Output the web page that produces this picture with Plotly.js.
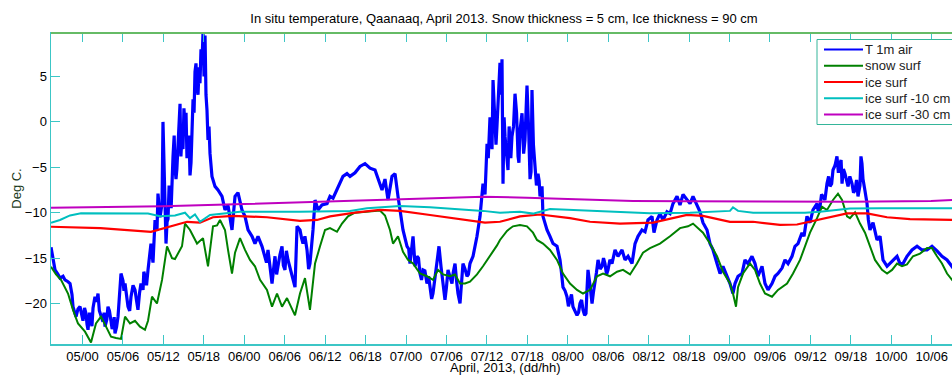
<!DOCTYPE html>
<html>
<head>
<meta charset="utf-8">
<script src="https://cdn.plot.ly/plotly-3.0.1.min.js"></script>
<style>
  html, body { margin: 0; padding: 0; overflow: hidden; background: #fff; }
  #chart { width: 985px; height: 376px; }
</style>
</head>
<body>
<div id="chart"></div>
<script>
// Hours are counted from 2013-04-05 00:00.
const airHours = [
  -4.67,-4.38,-4.08,-3.64,-3.34,-2.89,-2.60,-2.15,-1.85,-1.56,-1.41,-0.96,-0.67,-0.37,
  0.07,0.30,0.52,0.67,0.82,1.05,1.26,1.40,1.56,1.85,2.10,2.30,2.50,2.74,3.04,3.20,3.34,3.60,3.78,4.00,
  4.23,4.40,4.53,4.70,4.82,5.05,5.27,5.40,5.56,5.71,6.01,6.15,6.31,6.55,6.75,7.00,7.20,7.50,7.79,8.00,
  8.23,8.45,8.68,8.98,9.10,9.27,9.50,9.72,9.90,10.02,10.16,10.46,10.76,11.05,11.20,11.50,11.80,11.94,
  12.09,12.25,12.39,12.55,12.69,12.85,12.98,13.15,13.43,13.60,13.72,13.87,14.00,14.17,14.30,14.47,
  14.60,14.76,14.91,15.05,15.21,15.36,15.50,15.65,15.80,15.95,16.10,16.25,16.40,16.55,16.69,16.84,
  16.95,17.14,17.30,17.43,17.58,17.73,17.88,18.03,18.18,18.32,18.47,18.62,18.77,18.92,19.21,
  19.66,20.10,20.70,21.14,21.59,21.88,22.18,22.63,23.07,23.66,24.11,24.56,25.15,25.59,26.04,26.63,
  27.08,27.30,27.52,27.82,28.12,28.35,28.56,28.80,29.01,29.30,29.60,29.80,30.04,30.25,30.49,30.80,
  31.08,31.53,31.83,32.27,32.50,32.72,33.00,33.31,33.55,33.75,34.20,34.50,
  34.94,35.53,36.28,36.72,37.17,37.76,38.21,38.65,39.24,39.69,40.43,41.17,41.91,42.66,43.40,43.84,
  44.44,44.88,45.33,45.92,46.37,46.81,47.40,47.55,48.15,48.40,48.59,48.80,49.04,49.35,49.63,49.85,
  50.07,50.30,50.52,50.80,51.11,51.35,51.56,51.80,52.00,52.30,52.60,52.89,53.20,53.49,53.78,54.00,
  54.23,54.50,54.82,55.00,55.27,55.50,55.71,56.01,56.25,56.45,56.75,57.05,57.25,57.49,57.94,58.53,
  58.98,59.42,59.72,60.02,60.20,60.46,60.60,60.76,60.91,61.05,61.20,61.35,61.50,61.65,61.80,61.94,
  62.10,62.24,62.39,62.55,62.69,62.90,63.13,63.30,63.43,63.55,63.72,63.95,64.17,64.40,64.62,64.75,
  64.91,65.05,65.21,65.45,65.65,65.80,65.95,66.20,66.40,66.55,66.69,66.90,67.14,67.35,67.58,67.75,
  67.88,68.18,68.32,68.92,69.36,69.81,70.40,70.85,71.05,71.29,71.60,71.88,72.10,72.33,72.55,72.77,
  73.10,73.37,73.60,73.81,74.05,74.26,74.50,74.70,74.85,75.00,75.30,75.60,75.80,76.04,76.25,76.49,
  76.80,77.08,77.30,77.52,77.75,77.97,78.25,78.56,
  79.01,79.45,80.05,80.49,80.94,81.53,81.98,82.42,83.01,83.46,83.90,84.50,84.79,85.24,85.68,86.13,
  86.72,87.17,87.61,88.21,88.65,89.10,89.69,90.14,90.58,91.18,91.62,92.06,92.66,93.10,93.55,94.14,
  94.59,95.03,95.62,96.07,96.51,96.81,97.26,97.85,98.29,98.74,99.33,99.78,100.22,100.82,101.26,101.71,
  102.30,102.75,103.19,103.79,104.23,104.68,105.27,105.71,106.16,106.75,107.05,107.49,107.94,108.38,108.98,
  109.15,109.42,109.65,109.87,110.15,110.46,110.70,110.91,111.15,111.35,111.65,111.94,112.15,112.39,112.55,112.69,
  112.90,113.13,113.35,113.58,113.85,114.17,114.40,114.62,114.85,115.06,115.35,115.50,115.65,115.80,116.10,116.40,
  116.60,116.84,117.29,117.88,118.33,118.77,119.37,119.81,120.26,120.85,121.29,121.74,122.33,123.07,123.82,124.56,
  125.30,126.04,126.78,127.52,128.27,129.01,129.90,130.60
];
const airTemp = [
  -13.8,-15.0,-16.3,-16.8,-17.2,-17.0,-17.4,-17.6,-17.8,-19.0,-20.35,-21.45,-20.6,-20.35,
  -21.9,-20.5,-21.1,-22.3,-22.9,-21.0,-21.9,-22.5,-20.5,-19.25,-19.8,-18.9,-20.8,-21.45,-22.0,-21.0,-22.55,-21.8,-20.35,-20.8,
  -21.9,-22.8,-22.5,-21.5,-23.3,-22.6,-21.45,-20.0,-19.0,-16.7,-17.5,-18.6,-17.8,-19.0,-20.35,-20.8,-19.25,-18.0,-18.5,-19.6,
  -20.7,-18.9,-17.8,-18.5,-16.5,-17.0,-18.0,-16.3,-15.2,-14.5,-13.4,-15.5,-10.8,-12.0,-7.9,-10.5,-9.0,0.0,
  -6.0,-9.5,-13.4,-11.0,-10.7,-7.0,-8.0,-9.5,-3.8,-1.5,-5.0,-6.3,-5.2,-2.0,-0.5,2.0,
  -3.8,-1.5,-3.0,1.5,-0.5,1.0,-4.0,-2.5,-1.5,-5.9,-4.5,-1.0,2.5,1.0,5.5,6.45,
  4.0,3.0,6.0,4.25,8.0,6.5,9.8,5.0,9.5,3.0,1.3,-2.0,-0.5,-3.5,-6.0,
  -7.1,-7.5,-8.2,-9.7,-9.2,-10.5,-11.9,-8.2,-7.8,-9.7,-10.4,-11.9,-12.6,-13.4,-12.6,-13.7,
  -14.8,-15.5,-14.1,-16.0,-17.8,-16.2,-14.8,-16.8,-15.6,-14.6,-13.7,-15.8,-16.3,-14.2,-15.2,-16.0,
  -17.0,-18.2,-11.5,-11.9,-12.8,-13.4,-12.6,-14.1,-16.2,-15.6,-11.9,-8.6,
  -9.7,-9.15,-9.0,-8.2,-8.4,-7.5,-6.8,-6.0,-5.7,-6.0,-5.6,-4.9,-4.6,-5.1,-5.3,-6.3,
  -7.5,-6.3,-8.6,-6.0,-5.7,-8.2,-11.0,-11.9,-13.7,-14.0,-15.6,-14.2,-12.6,-15.9,-14.8,-15.0,
  -16.7,-17.4,-16.3,-16.4,-17.8,-17.0,-18.5,-19.5,-18.9,-17.0,-15.6,-13.7,-16.0,-17.8,-19.6,-18.2,
  -16.3,-17.0,-17.8,-16.6,-15.6,-17.5,-18.9,-20.0,-17.6,-15.6,-16.2,-17.0,-16.8,-15.6,-14.8,-12.6,
  -10.4,-6.8,-8.0,-2.4,-4.0,0.5,-1.0,-3.0,4.6,2.5,1.0,-2.5,-0.4,2.0,5.0,6.5,
  3.0,6.9,-6.8,0.5,-1.6,-3.5,-5.3,-0.5,-3.0,-4.0,-1.6,-0.5,3.1,1.0,-3.8,-4.5,
  -1.0,-0.3,0.95,-3.5,-2.0,1.0,4.0,-1.0,-6.3,-5.5,3.5,-2.5,-4.6,-7.0,-5.7,-6.5,
  -8.2,-7.1,-10.4,-11.9,-12.6,-13.4,-13.7,-15.2,-16.5,-18.2,-18.6,-19.25,-20.3,-19.6,-19.0,-20.35,
  -20.8,-21.3,-21.0,-20.0,-19.6,-20.7,-21.3,-21.1,-18.5,-16.3,-18.0,-20.0,-18.8,-17.8,-16.6,-15.2,
  -16.2,-15.9,-15.0,-15.6,-16.8,-16.3,-15.2,-15.6,
  -14.1,-14.8,-14.1,-15.2,-14.8,-15.6,-13.4,-12.6,-11.9,-12.1,-10.8,-10.4,-12.2,-10.8,-10.1,-10.8,
  -9.9,-10.1,-9.0,-8.2,-9.15,-8.0,-8.6,-9.0,-8.2,-9.15,-9.9,-11.1,-11.9,-13.4,-14.1,-15.6,
  -16.7,-15.9,-17.0,-17.8,-18.9,-17.8,-17.0,-16.7,-15.2,-15.6,-14.8,-15.6,-17.0,-15.9,-17.8,-18.5,
  -17.8,-17.0,-16.7,-16.1,-15.2,-15.6,-14.8,-13.7,-13.4,-12.2,-12.6,-10.4,-11.1,-9.7,-9.0,
  -9.8,-9.35,-8.0,-8.2,-8.6,-6.8,-6.0,-7.1,-6.8,-5.3,-4.8,-3.8,-5.6,-4.6,-4.2,-6.8,
  -5.2,-5.7,-6.3,-7.1,-6.0,-6.8,-7.8,-7.5,-6.4,-8.2,-7.0,-3.8,-4.6,-6.3,-7.6,-9.0,
  -10.8,-11.9,-11.1,-13.0,-12.6,-15.2,-15.9,-15.6,-15.2,-14.8,-15.6,-15.6,-14.8,-14.1,-13.7,-14.1,
  -14.1,-13.7,-14.2,-14.8,-15.2,-15.9,-16.8,-17.2
];

const snowHours = [-4.67,-3.93,-3.19,-2.15,-1.41,-0.67,0.37,1.26,2.00,2.74,3.49,4.23,4.97,5.71,6.31,7.05,7.79,8.53,9.27,9.72,10.31,11.05,11.80,12.54,13.28,13.72,14.76,15.21,15.95,16.99,17.88,18.62,19.36,19.96,20.40,21.14,21.59,22.18,22.63,23.37,24.11,24.85,25.59,26.34,27.37,28.12,28.86,29.60,30.34,31.08,31.53,32.27,33.01,33.75,34.50,35.24,35.98,36.72,37.76,38.50,39.39,40.43,41.17,42.66,44.14,44.88,45.62,46.07,46.81,47.55,48.29,49.04,50.07,51.11,52.00,52.75,53.49,54.53,55.27,56.01,56.75,57.49,58.53,59.42,60.46,61.50,61.94,62.98,63.87,64.91,65.95,66.84,67.43,68.32,69.36,70.40,71.29,72.33,73.37,74.26,75.30,76.34,77.23,78.27,79.31,80.20,81.24,82.27,83.16,84.20,85.68,87.17,88.65,89.84,90.58,91.33,92.06,93.10,94.14,95.03,96.07,96.51,96.96,97.26,98.00,99.04,99.78,100.52,101.26,102.30,103.19,104.53,105.42,106.46,107.20,107.94,108.98,109.72,110.46,111.35,112.09,112.69,113.43,113.87,114.62,115.36,116.10,116.84,117.58,118.62,119.37,120.11,120.85,121.59,122.33,123.22,124.26,125.30,126.04,126.78,127.52,128.27,129.01,129.90,130.50];
const snowTemp = [-15.95,-16.8,-17.4,-18.9,-20.7,-22.2,-23.1,-24.3,-22.2,-21.45,-22.55,-23.66,-23.8,-23.9,-21.45,-22.2,-21.9,-22.55,-22.9,-21.9,-19.25,-20.0,-17.4,-13.7,-15.0,-15.1,-13.7,-11.2,-11.9,-13.4,-12.8,-15.9,-11.5,-11.4,-10.8,-11.9,-14.1,-16.7,-14.4,-12.8,-14.1,-15.2,-15.9,-17.4,-18.5,-20.35,-18.9,-20.35,-19.4,-20.7,-21.3,-18.9,-17.2,-20.7,-15.6,-13.7,-11.9,-11.7,-12.1,-11.2,-10.4,-10.0,-9.95,-9.9,-9.75,-10.3,-11.9,-13.4,-12.6,-14.3,-15.2,-15.6,-16.7,-17.0,-17.4,-16.3,-16.8,-17.0,-16.8,-17.8,-17.8,-17.6,-16.8,-15.9,-14.8,-13.6,-13.0,-12.0,-11.5,-11.35,-11.5,-12.2,-13.0,-13.4,-14.1,-15.2,-16.7,-17.8,-18.5,-18.9,-18.5,-17.0,-16.7,-17.0,-16.5,-16.3,-16.8,-15.6,-14.4,-13.9,-13.4,-12.6,-11.7,-11.5,-11.2,-11.7,-12.2,-13.4,-14.8,-16.5,-17.8,-18.9,-20.35,-18.2,-16.7,-15.6,-16.3,-17.8,-18.9,-19.25,-18.5,-17.8,-16.7,-15.2,-13.7,-12.2,-10.6,-9.35,-9.7,-8.6,-7.9,-8.6,-10.4,-10.6,-9.95,-11.2,-12.2,-13.7,-15.2,-16.3,-16.7,-16.3,-15.6,-15.9,-15.7,-14.8,-14.5,-13.9,-13.9,-14.8,-15.6,-16.7,-17.4,-18.0,-18.3];

const iceHours = [-4.67,2.67,10.16,12.54,15.51,17.43,19.36,22.33,27.37,32.27,34.79,36.72,40.43,44.14,47.11,51.56,57.49,59.72,61.94,64.91,67.88,72.33,75.30,79.75,84.65,89.69,92.06,96.07,99.49,103.49,106.01,109.42,113.43,116.40,119.37,122.78,128.71,130.50];
const iceTemp = [-11.55,-11.7,-12.1,-11.6,-11.0,-11.1,-10.5,-10.35,-10.5,-10.9,-10.8,-10.4,-10.0,-9.7,-9.8,-10.25,-10.9,-11.1,-11.0,-10.4,-10.2,-10.6,-11.0,-11.2,-11.1,-10.25,-10.35,-11.0,-11.0,-11.35,-11.3,-10.7,-10.07,-10.07,-10.5,-10.7,-10.8,-10.8];

const ice10Hours = [-4.67,-3.34,-1.85,-0.22,9.72,11.50,13.72,15.21,15.95,16.69,17.43,18.92,23.37,32.27,39.69,42.20,47.11,51.56,59.42,61.94,64.91,66.84,69.36,74.26,80.50,84.20,90.14,96.07,96.51,97.26,99.50,107.20,109.42,113.87,118.33,130.50];
const ice10Temp = [-11.1,-10.8,-10.3,-10.07,-10.1,-10.4,-10.3,-10.0,-10.6,-10.2,-11.0,-10.25,-9.9,-9.9,-9.8,-9.5,-9.25,-9.4,-9.8,-10.0,-9.9,-10.1,-9.6,-9.75,-9.9,-10.05,-10.0,-9.8,-9.4,-9.8,-10.0,-10.0,-9.9,-9.55,-9.5,-9.5];

const ice30Hours = [-4.67,0.07,11.94,23.96,34.79,47.85,59.42,65.95,71.74,81.68,89.84,101.86,113.87,125.89,129.90,130.50];
const ice30Temp = [-9.45,-9.4,-9.3,-9.05,-8.8,-8.55,-8.25,-8.35,-8.5,-8.7,-8.75,-8.8,-8.8,-8.7,-8.55,-8.55];

const seriesNames = ['T 1m air', 'snow surf', 'ice surf', 'ice surf -10 cm', 'ice surf -30 cm'];
const seriesColors = ['#0000ff', '#008000', '#ff0000', '#00bfbf', '#bf00bf'];
const yTicks = [-20, -15, -10, -5, 0, 5];

const chartTitle = 'In situ temperature, Qaanaaq, April 2013. Snow thickness = 5 cm, Ice thickness = 90 cm';
const xTitle = 'April, 2013, (dd/hh)';
const yTitle = 'Deg C.';

// hours after 2013-04-05 00:00 -> Plotly date string
const t0 = Date.UTC(2013, 3, 5, 0, 0, 0);
function toDate(h) {
  return new Date(t0 + Math.round(h * 3600000)).toISOString().replace('T', ' ').slice(0, 19);
}

const hoursList = [airHours, snowHours, iceHours, ice10Hours, ice30Hours];
const tempList = [airTemp, snowTemp, iceTemp, ice10Temp, ice30Temp];
const widths = [3.2, 2, 2.2, 2, 2];

const traces = seriesNames.map((name, i) => ({
  type: 'scatter',
  mode: 'lines',
  name: name,
  x: hoursList[i].map(toDate),
  y: tempList[i],
  line: { color: seriesColors[i], width: widths[i] },
  showlegend: false
}));

// Figure geometry (pixels) used to place the legend box and x title.
const W = 985, H = 376;
const M = { l: 51, r: 23, t: 33, b: 32 };
const plotW = W - M.l - M.r, plotH = H - M.t - M.b;
const px = x => (x - M.l) / plotW;
const py = y => 1 - (y - M.t) / plotH;

const axisColor = '#3cc6c6';
const font = 'Liberation Sans, Arial, sans-serif';

// Legend: framed box in the upper right corner of the axes
const legBox = { left: 817, top: 39.5, bottom: 124.5, right: 966 };
const legRow0 = 49.5, legRowStep = 16.25;
const legShapes = [{
  type: 'rect', xref: 'paper', yref: 'paper', layer: 'above',
  x0: px(legBox.left), x1: px(legBox.right), y0: py(legBox.bottom), y1: py(legBox.top),
  line: { color: '#35b59a', width: 1 }, fillcolor: '#ffffff'
}];
const notes = [];
seriesNames.forEach((name, i) => {
  const yy = py(legRow0 + i * legRowStep);
  legShapes.push({
    type: 'line', xref: 'paper', yref: 'paper', layer: 'above',
    x0: px(824), x1: px(863), y0: yy, y1: yy,
    line: { color: seriesColors[i], width: 2 }
  });
  notes.push({
    xref: 'paper', yref: 'paper', x: px(864), y: yy,
    xanchor: 'left', yanchor: 'middle', showarrow: false, borderpad: 0,
    text: name, font: { family: font, size: 13, color: '#222' }
  });
});

// x-axis title, centred under the axes
notes.push({
  xref: 'paper', yref: 'paper', x: px(505), y: py(367.5),
  xanchor: 'center', yanchor: 'middle', showarrow: false, borderpad: 0,
  text: xTitle, font: { family: font, size: 13, color: '#000' }
});

const layout = {
  width: W,
  height: H,
  margin: M,
  paper_bgcolor: '#ffffff',
  plot_bgcolor: '#ffffff',
  font: { family: font, size: 13, color: '#000' },
  showlegend: false,
  title: {
    text: chartTitle,
    font: { family: font, size: 13, color: '#000' },
    xref: 'container', x: 504 / W, xanchor: 'center',
    yref: 'container', y: 1 - 18.5 / H, yanchor: 'middle'
  },
  xaxis: {
    type: 'date',
    range: [toDate(-4.674), toDate(130.49)],
    tick0: toDate(0),
    dtick: 6 * 3600000,
    tickformat: '%d/%H',
    ticks: 'inside',
    ticklen: 9,
    tickcolor: axisColor,
    tickwidth: 1,
    showline: true,
    linecolor: axisColor,
    linewidth: 1.5,
    mirror: 'ticks',
    showgrid: false,
    zeroline: false,
    tickfont: { family: font, size: 13, color: '#000' }
  },
  yaxis: {
    range: [-24.46, 9.79],
    tickvals: yTicks,
    ticks: 'inside',
    ticklen: 9,
    tickcolor: axisColor,
    tickwidth: 1,
    showline: true,
    linecolor: axisColor,
    linewidth: 1.5,
    mirror: 'ticks',
    showgrid: false,
    zeroline: false,
    tickfont: { family: font, size: 13, color: '#000' },
    title: { text: yTitle, font: { family: font, size: 13, color: '#1a3a1a' }, standoff: 0 }
  },
  shapes: [{
    type: 'line', xref: 'paper', yref: 'paper',
    x0: 0, x1: 1, y0: 1, y1: 1,
    line: { color: '#66bb66', width: 2 }
  }].concat(legShapes),
  annotations: notes
};

Plotly.newPlot('chart', traces, layout, { displayModeBar: false, staticPlot: true });
</script>
</body>
</html>
